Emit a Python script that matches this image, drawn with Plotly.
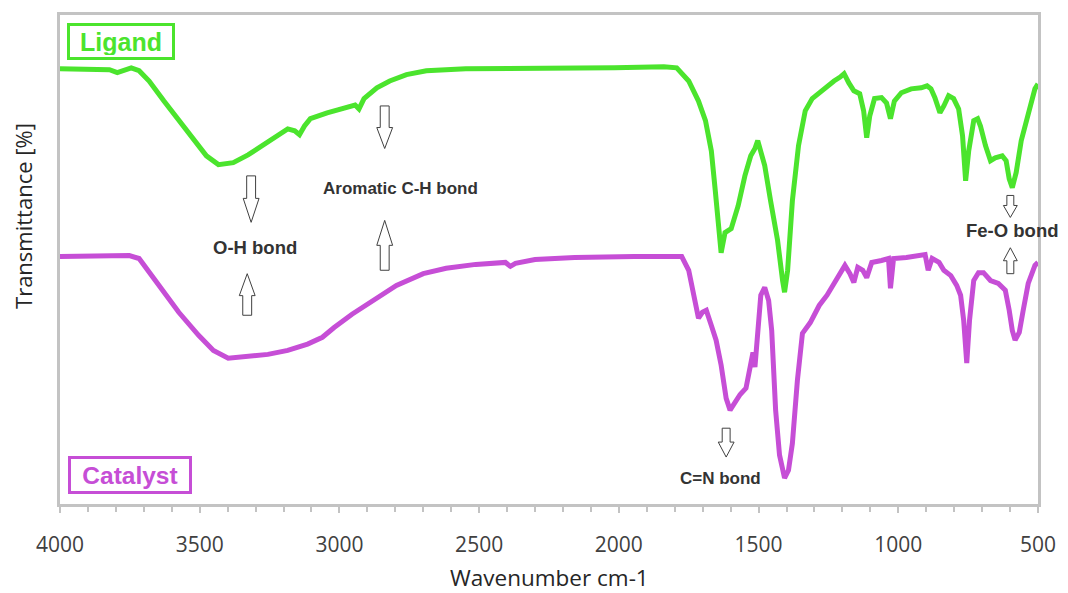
import plotly.graph_objects as go

# ---------------- data ----------------
ligand_wn = [4000, 3911, 3823, 3795, 3770, 3745, 3717, 3681, 3628, 3575, 3522, 3476, 3433, 3380, 3327,
             3256, 3185, 3160, 3143, 3125, 3104, 3044, 2973, 2944, 2930, 2912, 2866, 2820, 2760, 2689,
             2548, 2264, 2016, 1839, 1793, 1750, 1715, 1690, 1669, 1655, 1644, 1634, 1620, 1598, 1573,
             1549, 1528, 1513, 1503, 1492, 1478, 1457, 1432, 1414, 1407, 1396, 1379, 1357, 1333, 1308,
             1283, 1255, 1230, 1208, 1194, 1177, 1159, 1138, 1124, 1113, 1102, 1085, 1060, 1042, 1028,
             1014, 989, 954, 918, 897, 883, 869, 851, 837, 820, 802, 784, 770, 759, 748,
             730, 716, 706, 688, 670, 653, 628, 614, 603, 592, 578, 560, 535, 511, 500]
ligand_t = [89.0, 89.0, 88.8, 88.2, 88.6, 89.2, 88.6, 86.5, 82.4, 78.4, 74.3, 71.2, 69.4, 69.8, 71.4,
            73.9, 76.7, 76.3, 75.5, 77.3, 78.8, 80.0, 81.2, 81.6, 80.8, 82.9, 85.1, 86.5, 87.8, 88.6,
            89.0, 89.0, 89.2, 89.4, 89.2, 86.5, 82.4, 78.4, 72.2, 64.1, 55.9, 51.4, 55.5, 56.3, 61.0,
            67.1, 71.2, 72.7, 74.3, 72.2, 69.2, 62.0, 53.9, 45.7, 43.3, 47.8, 62.0, 73.3, 80.4, 82.9,
            84.1, 85.5, 86.5, 87.3, 88.0, 86.1, 84.5, 83.9, 80.4, 74.9, 79.4, 82.9, 83.1, 82.0, 78.8,
            82.4, 84.1, 84.9, 85.1, 85.5, 84.9, 83.1, 80.0, 81.4, 83.5, 82.9, 80.8, 75.3, 66.1, 72.2,
            78.4, 78.8, 77.3, 73.3, 70.2, 70.8, 71.2, 70.2, 66.5, 64.7, 67.8, 74.3, 80.0, 84.9, 85.9]

catalyst_wn = [4000, 3858, 3752, 3717, 3681, 3628, 3575, 3504, 3451, 3398, 3327, 3256, 3185, 3114, 3061,
               3019, 2955, 2866, 2796, 2700, 2618, 2512, 2441, 2406, 2388, 2370, 2300, 2158, 1945, 1775,
               1750, 1733, 1715, 1701, 1687, 1669, 1652, 1634, 1616, 1602, 1584, 1566, 1545, 1531, 1520,
               1513, 1503, 1492, 1478, 1464, 1453, 1439, 1425, 1407, 1393, 1379, 1361, 1343, 1315, 1283,
               1255, 1237, 1212, 1191, 1173, 1159, 1145, 1127, 1113, 1095, 1060, 1035, 1028, 1017, 971,
               918, 904, 893, 879, 854, 837, 812, 791, 777, 766, 755, 745, 730, 713, 695,
               670, 642, 617, 603, 592, 582, 567, 553, 535, 511, 500]
catalyst_t = [50.6, 50.6, 50.8, 50.2, 47.3, 43.1, 39.2, 34.5, 31.4, 29.8, 30.2, 30.6, 31.4, 32.7, 34.1,
              36.1, 38.8, 42.2, 44.7, 47.1, 48.2, 49.0, 49.4, 49.4, 48.6, 49.2, 50.0, 50.4, 50.6, 50.6,
              47.8, 43.1, 38.0, 39.2, 39.6, 36.5, 33.5, 28.4, 21.6, 19.2, 20.8, 22.4, 23.7, 27.3, 31.0,
              28.0, 35.5, 42.7, 44.3, 41.6, 35.5, 19.2, 10.0, 5.3, 6.9, 12.4, 25.3, 34.9, 37.1, 40.6,
              42.7, 44.3, 46.7, 48.8, 47.1, 45.3, 48.4, 47.8, 46.3, 49.4, 49.8, 50.2, 44.1, 50.2, 50.4,
              50.8, 51.0, 47.8, 50.2, 49.4, 47.8, 46.7, 44.7, 42.7, 37.6, 28.8, 37.6, 45.7, 47.3, 47.3,
              45.7, 45.1, 43.7, 39.6, 35.5, 33.5, 35.1, 39.6, 45.1, 48.8, 49.4]

x_ticks = [4000, 3500, 3000, 2500, 2000, 1500, 1000, 500]
x_title = "Wavenumber cm-1"
y_title = "Transmittance [%]"
series_names = ["Ligand", "Catalyst"]

# bond labels: (text, wavenumber, y, font size)
bond_labels = [("Aromatic C-H bond", 2781, 64.5, 17),
               ("O-H bond", 3302, 52.4, 18.5),
               ("Fe-O bond", 592, 56.0, 18.5),
               ("C=N bond", 1635, 5.3, 17)]

# hollow arrows: (wavenumber, y_base, y_tip, shaft half-width px, head half-width px, head height px)
arrows = [(3316, 67.1, 57.6, 4.5, 8, 24),
          (3330, 38.6, 47.1, 4.5, 8, 22),
          (2838, 81.4, 72.7, 4.5, 8, 21),
          (2838, 47.8, 58.0, 4.5, 8, 25),
          (599, 63.1, 58.6, 3.5, 7, 12),
          (599, 47.1, 52.4, 3.5, 7, 13),
          (1616, 15.5, 9.6, 4, 8, 15)]

GREEN = "rgb(75,228,45)"
MAGENTA = "rgb(198,78,214)"
TEXT = "#333333"
FRAME = "#c3c3c3"

# layout geometry
W, H = 1068, 593
L, R, T, B = 60, 20, 14, 89
PW, PH = W - L - R, H - T - B
X0, X1 = 4000, 500
Y0, Y1 = 0, 100
WN_PER_PX = (X0 - X1) / PW
Y_PER_PX = (Y1 - Y0) / PH

fig = go.Figure()
fig.add_trace(go.Scatter(x=ligand_wn, y=ligand_t, mode="lines", name=series_names[0],
                         line=dict(color=GREEN, width=5)))
fig.add_trace(go.Scatter(x=catalyst_wn, y=catalyst_t, mode="lines", name=series_names[1],
                         line=dict(color=MAGENTA, width=5)))

# hollow arrows
for wn, yb, yt, sw, hw, hh in arrows:
    d = 1 if yt > yb else -1
    sw_u, hw_u, hh_u = sw * WN_PER_PX, hw * WN_PER_PX, hh * Y_PER_PX
    yh = yt - d * hh_u
    pts = [(wn - sw_u, yb), (wn + sw_u, yb), (wn + sw_u, yh), (wn + hw_u, yh),
           (wn, yt), (wn - hw_u, yh), (wn - sw_u, yh)]
    path = "M " + " L ".join(f"{px:.2f},{py:.3f}" for px, py in pts) + " Z"
    fig.add_shape(type="path", path=path, xref="x", yref="y",
                  line=dict(color="#404040", width=1), fillcolor="white")

for txt, wn, yv, fs in bond_labels:
    fig.add_annotation(x=wn, y=yv, xref="x", yref="y", text=f"<b>{txt}</b>", showarrow=False,
                       font=dict(family="Liberation Sans, Arial", size=fs, color=TEXT))

# series label boxes
fig.add_annotation(x=(67 - L) / PW, y=(H - B - 22) / PH, xref="paper", yref="paper",
                   xanchor="left", yanchor="top", text=f"<b>{series_names[0]}</b>", showarrow=False,
                   font=dict(family="Liberation Sans, Arial", size=25, color=GREEN),
                   bordercolor=GREEN, borderwidth=3, borderpad=2, width=98, height=27,
                   bgcolor="white")
fig.add_annotation(x=(68 - L) / PW, y=(H - B - 494) / PH, xref="paper", yref="paper",
                   xanchor="left", yanchor="bottom", text=f"<b>{series_names[1]}</b>", showarrow=False,
                   font=dict(family="Liberation Sans, Arial", size=24.5, color=MAGENTA),
                   bordercolor=MAGENTA, borderwidth=3, borderpad=2, width=114, height=28,
                   bgcolor="white")

# axis titles
fig.add_annotation(x=0.5, y=(H - B - 578) / PH, xref="paper", yref="paper", text=x_title,
                   showarrow=False, yanchor="middle",
                   font=dict(family="Open Sans", size=22.5, color="#262626"))
fig.add_annotation(x=(22 - L) / PW, y=(H - B - 215) / PH, xref="paper", yref="paper", text=y_title,
                   showarrow=False, textangle=-90, xanchor="center", yanchor="middle",
                   font=dict(family="Open Sans", size=22, color="#262626"))

fig.update_xaxes(range=[X0, X1], tickvals=x_ticks, ticktext=[str(v) for v in x_ticks],
                 showgrid=False, zeroline=False, showline=True, mirror=True,
                 linecolor=FRAME, linewidth=3, ticks="outside", ticklen=6, tickwidth=1.5,
                 tickcolor=FRAME, ticklabelstandoff=14, ticklabeloverflow="allow",
                 minor=dict(ticks="outside", dtick=100, ticklen=5, tickwidth=1.5, tickcolor=FRAME),
                 tickfont=dict(family="Open Sans", size=21, color="#404040"))
fig.update_yaxes(range=[Y0, Y1], showticklabels=False, showgrid=False, zeroline=False,
                 showline=True, mirror=True, linecolor=FRAME, linewidth=3, ticks="")

fig.update_layout(width=W, height=H, autosize=False,
                  margin=dict(l=L, r=R, t=T, b=B),
                  paper_bgcolor="white", plot_bgcolor="white", showlegend=False)

fig.write_html("out.html", config={"responsive": False, "displayModeBar": False},
               post_script="document.body.style.margin='0px';document.body.style.overflow='hidden';")
